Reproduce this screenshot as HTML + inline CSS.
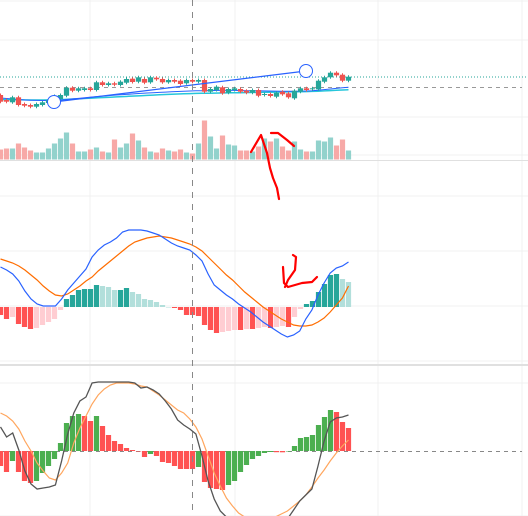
<!DOCTYPE html>
<html><head><meta charset="utf-8"><style>
html,body{margin:0;padding:0;background:#fff;width:528px;height:516px;overflow:hidden}
svg{display:block;font-family:"Liberation Sans",sans-serif}
</style></head><body>
<svg id="c" width="528" height="516"></svg>
<script>
const opens=[65,60,57.7,62.7,56,55,53.3,55,57,60,61,64.3,72.3,69.3,70,71.7,70,77.7,75,76.7,75,77.3,81.3,78.3,81,77.7,82.3,81,77.7,80,79.3,76.7,80,78.3,80,68.3,70,72.7,67.3,70,71,69.3,67.3,70,65,66,63.3,68.3,66.7,61.7,68.3,71.7,70.7,70.7,78.3,82.7,87.3,85.3,79.3];
const closes=[58.3,58.3,62.7,55,54.3,53.3,56,57.7,60,64,65,72.3,69.3,71.7,71.7,70,77.7,75,76.7,75.3,78.3,81,78,82.7,77.3,82.7,80.7,77.7,80,78.3,76,80,78.3,80,68.3,71,73.3,66.7,71,71.7,68.3,67.3,70,64.3,66,64,67.3,65.7,62.7,69.3,71.7,70,71.7,79.3,82.7,87.3,84.7,79.3,83.3];
const volumes=[10,11,11,16,12,9,7,7,11,16,21,27,16,8,8,10,12,8,7,20,12,16,26,19,12,8,7,11,9,8,10,7,6,16,39,23,11,24,15,14,9,9,8,13,21,18,21,13,9,18,10,8,8,19,18,22,14,20,9];
const volumeUp=[0,0,1,0,0,0,1,1,1,1,1,1,0,1,1,0,1,0,1,0,1,1,0,1,0,1,0,0,1,0,0,1,0,1,0,1,1,0,1,1,0,0,1,0,1,0,1,0,0,1,1,0,1,1,1,1,0,0,1];
const difValues=[40,37,33,26,16,8,3,1,1,1,8,17,24,31,38,50,57,62,65,69,75,77,77,77,76,74,72,68,64,61,59,57,52,46,33,22,17,12,8,3,-1,-5,-10,-15,-19,-23,-27,-30,-28,-24,-12,-3,12,24,34,39,41,45];
const deaValues=[48,46,44,41,37,32,27,21,16,12,11,13,17,21,26,30,36,41,46,51,56,61,65,67,69,70,71,70,69,67,65,63,60,56,50,44,38,32,27,21,15,10,5,0,-4,-8,-12,-15,-18,-19,-19,-18,-15,-11,-5,2,9,21];
const macdHist=[-8,-12,-10,-17,-20,-22,-21,-18,-15,-12,-3,8,12,17,18,18,22,21,20,17,17,19,15,13,8,7,5,2,0,-1,-3,-8,-8,-9,-18,-23,-26,-25,-24,-23,-23,-22,-22,-21,-20,-21,-20,-19,-20,-10,-2,3,6,15,23,32,33,28,25];
const oscHist=[-15,-21,-10,-21,-30,-32,-30,-22,-15,-8,8,28,35,37,35,30,35,25,16,10,7,3,1,0,-6,-3,-5,-11,-12,-15,-18,-18,-18,-16,-31,-37,-38,-39,-34,-30,-21,-14,-8,-5,-2,-1,-1.2,-1.3,0,5,13,14,16,26,34,41,39,29,23];
const kLine=[24,14,18,1,-20,-33,-38,-37,-36,-34,-10,17,38,50,54,68,69,69,69,69,69,69,68,63,64,61,57,50,42,31,26,22,17,-5,-30,-48,-60,-66,-72,-76,-80,-82,-84,-84,-82,-80,-75,-68,-59,-50,-44,-38,-15,10,29,33,34,36];
const dLine=[38,35,30,22,10,0,-12,-20,-27,-29,-22,-12,8,23,35,47,56,62,66,68,68,68,67,65,64,60,56,51,46,41,38,32,24,12,-5,-22,-35,-47,-55,-62,-66,-68,-68,-68,-67,-66,-63,-60,-55,-50,-44,-36,-27,-19,-10,-2,5,11];
const maFast=[62,61.5,61,60.5,60,59.8,59.6,59.5,59.5,59.6,60,60.6,61.2,61.8,62.4,63,63.5,64,64.5,65,65.4,65.8,66.2,66.6,67,67.3,67.6,67.9,68.2,68.5,68.8,69,69.2,69.3,69.4,69.5,69.6,69.6,69.6,69.5,69.4,69.3,69.2,69.1,69,68.9,68.8,68.7,68.7,68.8,69,69.3,69.8,70.4,71,71.6,72.2,72.8];
const maSlow=[60.5,60.4,60.3,60.2,60.1,60,60,60,60.1,60.2,60.4,60.7,61,61.3,61.6,61.9,62.2,62.5,62.8,63.1,63.4,63.7,64,64.3,64.6,64.9,65.2,65.5,65.8,66,66.2,66.4,66.6,66.7,66.8,66.9,67,67.1,67.2,67.3,67.4,67.5,67.6,67.7,67.8,67.9,68,68.1,68.2,68.3,68.4,68.6,68.8,69.1,69.4,69.7,70,70.3];
const XB=i=>0.5+6*i;
const XL=(i,n)=>0.5+i*348/(n-1);
const priceY=p=>160-p;
const volY=v=>159.5-v;
const macdY=v=>307-v;
const oscY=v=>451-v;
const svg=document.getElementById('c');
const NS='http://www.w3.org/2000/svg';
function mk(tag,attrs,parent){const e=document.createElementNS(NS,tag);for(const k in attrs)e.setAttribute(k,attrs[k]);(parent||svg).appendChild(e);return e;}
const g=mk('g',{});


[90,235,378,522].forEach(x=>mk('line',{x1:x,y1:0,x2:x,y2:516,stroke:'#f0f0f0'},g));
[1,40,117,155,196,251,306,361,383,516].forEach(y=>mk('line',{x1:0,y1:y,x2:528,y2:y,stroke:'#f0f0f0'},g));
const s1=mk('line',{x1:0,y1:160.5,x2:528,y2:160.5,stroke:'#e0e0e0','stroke-width':1});


const s2=mk('line',{x1:0,y1:365,x2:528,y2:365,stroke:'#e0e0e0','stroke-width':2});


const pl=mk('line',{x1:0,y1:77,x2:528,y2:77,stroke:'#26a69a','stroke-dasharray':'1 2'});


const dl=mk('line',{x1:0,y1:87.5,x2:522,y2:87.5,stroke:'#999','stroke-dasharray':'4 4'});


const zl=mk('line',{x1:0,y1:451.5,x2:522,y2:451.5,stroke:'#888','stroke-dasharray':'4 4'});


for(let i=0;i<volumes.length;i++){
const r=mk('rect',{x:XB(i)-2.6,y:volY(volumes[i]),width:5.2,height:volumes[i],fill:volumeUp[i]?'#92d2cc':'#f7a9a7'});

}
function line(arr,yf,color,w,name){const n=arr.length;const d=arr.map((v,i)=>(i?'L':'M')+XL(i,n).toFixed(1)+' '+yf(v).toFixed(1)).join(' ');
const p=mk('path',{d:d,fill:'none',stroke:color,'stroke-width':w});

}
line(maSlow,priceY,'#26c6da',1.5,'ma-slow-line');
line(maFast,priceY,'#2962ff',1,'ma-fast-line');
for(let i=0;i<opens.length;i++){const up=closes[i]>=opens[i];const col=up?'#26a69a':'#ef5350';
const hi=Math.max(opens[i],closes[i])+1.5, lo=Math.min(opens[i],closes[i])-1.5;
const w=mk('line',{x1:XB(i),y1:priceY(hi),x2:XB(i),y2:priceY(lo),stroke:col});


const top=priceY(Math.max(opens[i],closes[i]));const h=Math.max(1,Math.abs(opens[i]-closes[i]));
const b=mk('rect',{x:XB(i)-2.6,y:top,width:5.2,height:h,fill:col});

}
const tl=mk('line',{x1:54,y1:102,x2:306,y2:71,stroke:'#2962ff','stroke-width':1.2});


[[54,102],[306,71]].forEach(p=>{const c=mk('circle',{cx:p[0],cy:p[1],r:6.5,fill:'#fff',stroke:'#2962ff','stroke-width':1});

});
for(let i=0;i<macdHist.length;i++){const v=macdHist[i],pv=i?macdHist[i-1]:0;let col;
if(v>=0)col=v>=pv?'#26a69a':'#b2dfdb';else col=v<=pv?'#ff5252':'#ffcdd2';
const r=mk('rect',{x:XB(i)-2.6,y:v>=0?macdY(v):307,width:5.2,height:Math.max(0.5,Math.abs(v)),fill:col});

}
line(deaValues,macdY,'#ff6d00',1.2,'macd-signal-line');
line(difValues,macdY,'#2962ff',1.2,'macd-line');
for(let i=0;i<oscHist.length;i++){const v=oscHist[i],pv=i?oscHist[i-1]:1e9;const col=v>pv?'#4caf50':'#ff5252';
const r=mk('rect',{x:XB(i)-2.6,y:v>=0?oscY(v):451,width:5.2,height:Math.max(0.5,Math.abs(v)),fill:col});

}
line(dLine,oscY,'#ffa65e',1.2,'oscillator-signal-line');
line(kLine,oscY,'#555',1.3,'oscillator-main-line');
const ch=mk('line',{x1:192.5,y1:0,x2:192.5,y2:516,stroke:'#888','stroke-dasharray':'6 6'});


['M251 152 L261 135 L267 153 L270 168 L273 178 L277 188 L279 199','M271 133 L278 133 L287 140 L294 146',
'M293 255 L296 257 L295 270 L288 280 L285 287','M283 267 L284 283 L288 287 L302 283 L312 282 L317 277'].forEach(d=>{
const a=mk('path',{d:d,fill:'none',stroke:'#f00','stroke-width':2.2,'stroke-linecap':'round','stroke-linejoin':'round'});

});
</script>
</body></html>
